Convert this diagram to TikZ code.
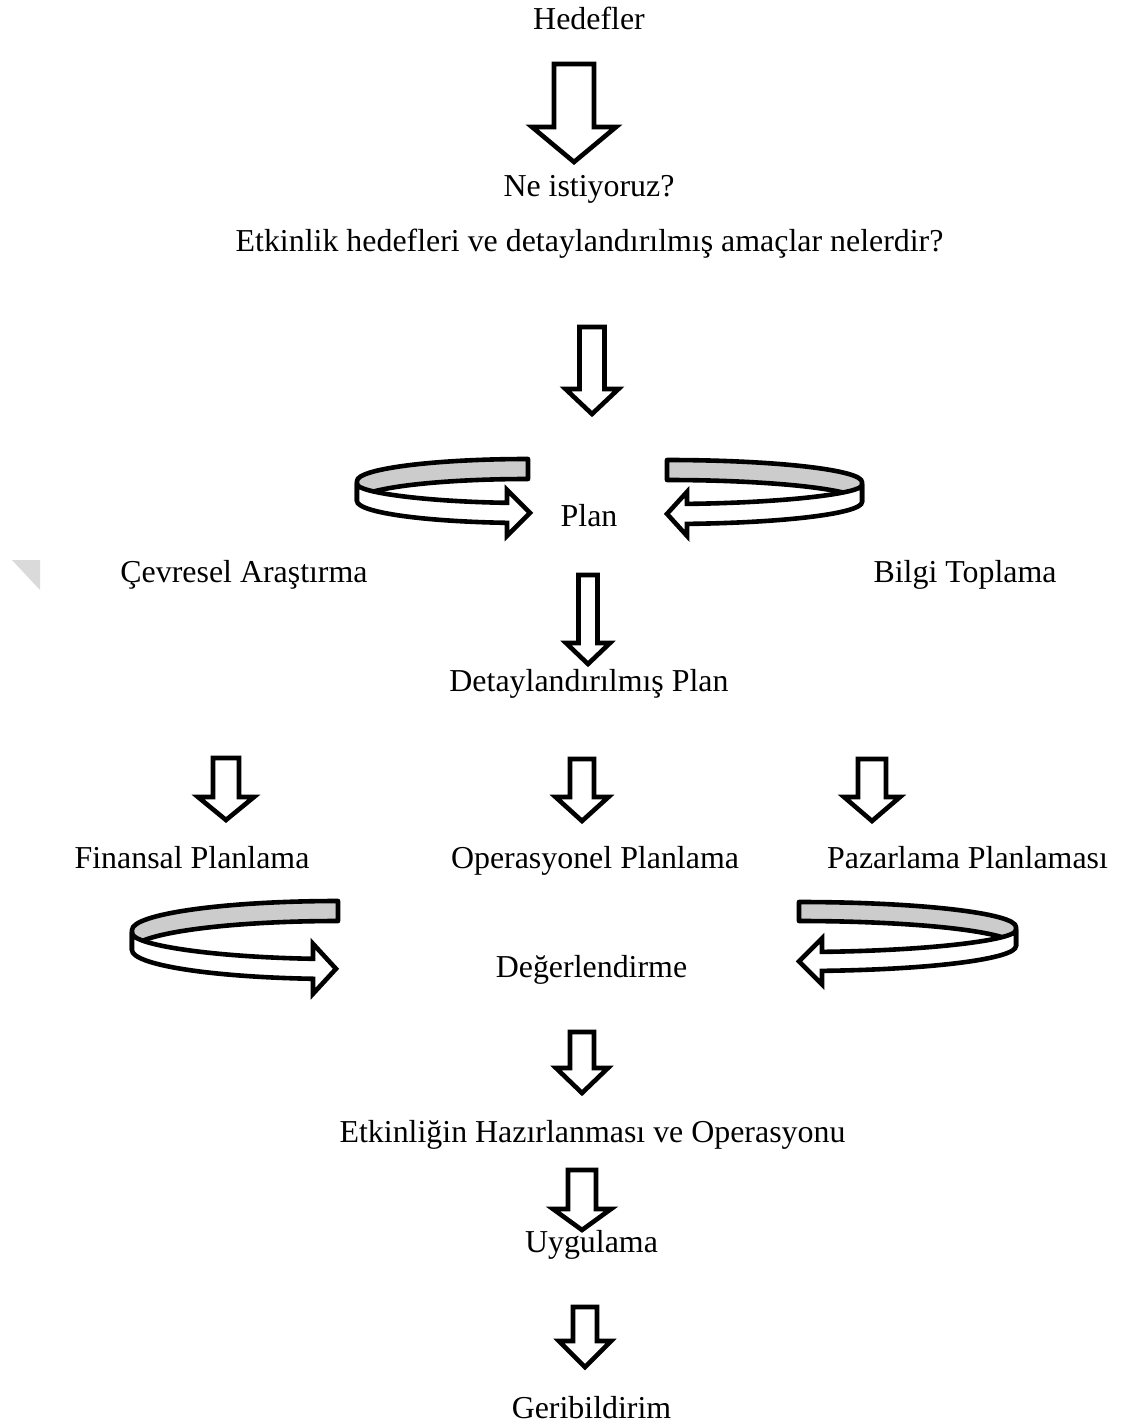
\documentclass[tikz,border=0pt]{standalone}
\usepackage{fontspec}
\setmainfont{Liberation Serif}
\definecolor{bandgray}{RGB}{204,204,204}
\definecolor{markgray}{RGB}{218,218,218}
\tikzset{
  lbl/.style={anchor=base, inner sep=0pt, font={\fontsize{31.9}{38}\selectfont}},
  blockarrow/.style={draw=black, fill=white, line width=4.6pt, line join=miter},
  ribbonback/.style={draw=black, fill=bandgray, line width=4.6pt, line join=round},
  ribbonfront/.style={draw=black, fill=white, line width=4.6pt, line join=miter}
}
% #1 x centre, #2 shaft half width, #3 head half width, #4 top, #5 head y, #6 tip y
\newcommand{\blockdown}[6]{%
  \draw[blockarrow] (#1-#2,-#4) -- (#1+#2,-#4) -- (#1+#2,-#5) -- (#1+#3,-#5)
    -- (#1,-#6) -- (#1-#3,-#5) -- (#1-#2,-#5) -- cycle;}
% #1 cx, #2 cy, #3 rx, #4 ry, #5 band h, #6 base offset, #7 head half, #8 tip offset, #9 mirror
\newcommand{\ribbonarrow}[9]{%
  \begin{scope}[shift={(#1,-#2)}, xscale=#9]
    \pgfmathsetmacro\rbT{acos(#6/#3)}
    \pgfmathsetmacro\rbY{-#4*sin(\rbT)}
    \pgfmathsetmacro\rbYc{\rbY-#5/2}
    \filldraw[ribbonback] (0,#4) arc[start angle=90,end angle=0,x radius=#3pt,y radius=#4pt]
      -- (#3,-#5) arc[start angle=0,end angle=90,x radius=#3pt,y radius=#4pt] -- cycle;
    \filldraw[ribbonfront] (#3,0) arc[start angle=0,end angle=-\rbT,x radius=#3pt,y radius=#4pt]
      -- (#6,\rbYc+#7) -- (#8,\rbYc) -- (#6,\rbYc-#7) -- (#6,\rbY-#5)
      arc[start angle=-\rbT,end angle=0,x radius=#3pt,y radius=#4pt] [rounded corners=3pt] -- cycle;
  \end{scope}}
\begin{document}
\begin{tikzpicture}[x=1pt,y=1pt]
\useasboundingbox (0,0) rectangle (1121,-1426);
\fill[white] (0,0) rectangle (1121,-1426);
\fill[markgray] (12,-560) -- (40,-560) -- (40,-590) -- cycle;

% texts
\node[lbl] (hedef) at (589,-30) {Hedefler};
\node[lbl] (ne) at (589,-196) {Ne istiyoruz?};
\node[lbl] (etk) at (589.5,-251) {Etkinlik hedefleri ve detaylandırılmış amaçlar nelerdir?};
\node[lbl] (plan) at (589,-526) {Plan};
\node[lbl] (cevre) at (244,-582) {Çevresel Araştırma};
\node[lbl] (bilgi) at (965,-582) {Bilgi Toplama};
\node[lbl] (detay) at (589,-691) {Detaylandırılmış Plan};
\node[lbl] (fin) at (192,-868) {Finansal Planlama};
\node[lbl] (ops) at (595,-868) {Operasyonel Planlama};
\node[lbl] (paz) at (967.5,-868) {Pazarlama Planlaması};
\node[lbl] (deg) at (591.5,-977) {Değerlendirme};
\node[lbl] (hazir) at (592.5,-1142) {Etkinliğin Hazırlanması ve Operasyonu};
\node[lbl] (uyg) at (591.5,-1252) {Uygulama};
\node[lbl] (geri) at (591.5,-1418) {Geribildirim};

% down block arrows
\blockdown{574}{20}{42}{64}{127}{162}
\blockdown{592}{12.5}{26.5}{327}{389}{414}
\blockdown{588}{9.5}{22}{575}{643}{664}
\blockdown{226}{13}{28}{758}{797}{820}
\blockdown{582}{12}{26.5}{759}{797}{821}
\blockdown{872}{14}{28}{759}{797}{821}
\blockdown{582}{12}{26}{1032}{1068}{1093}
\blockdown{582}{14}{29}{1170}{1209}{1230}
\blockdown{585}{12}{26}{1307}{1341}{1367}

% circular ribbon arrows
\ribbonarrow{528}{481}{171}{22}{20}{21}{23}{-2}{-1}
\ribbonarrow{667}{482}{195}{22}{20}{20}{22}{0}{1}
\ribbonarrow{338}{930}{206}{29}{20}{25}{25}{2}{-1}
\ribbonarrow{799}{927}{217}{25}{19}{23}{23}{0}{1}
\end{tikzpicture}
\end{document}
